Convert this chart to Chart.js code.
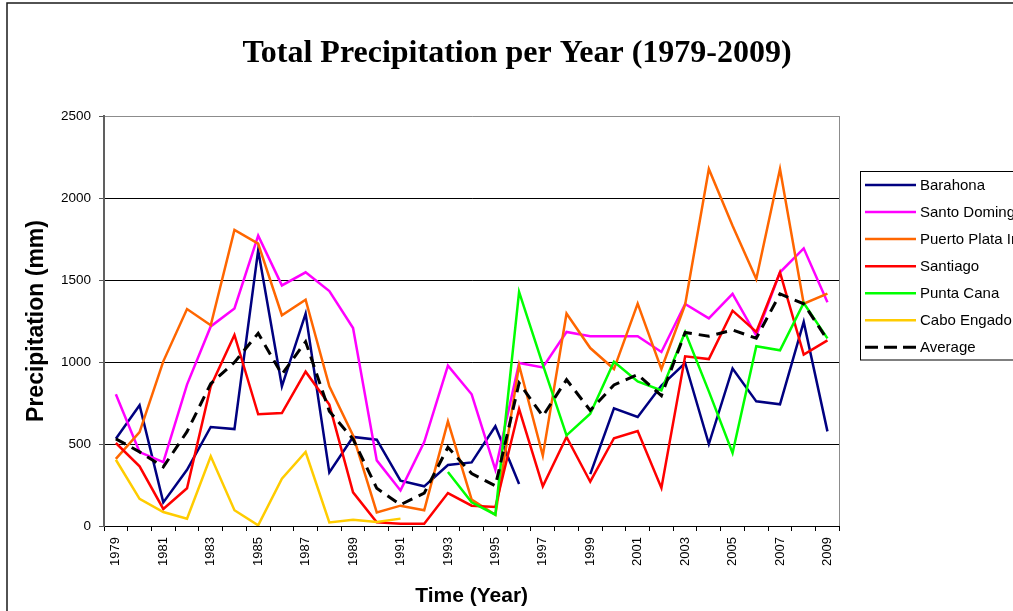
<!DOCTYPE html>
<html>
<head>
<meta charset="utf-8">
<script src="https://cdn.jsdelivr.net/npm/chart.js@4.4.1/dist/chart.umd.min.js"></script>
<style>
  html, body { margin: 0; padding: 0; overflow: hidden; background: #fff; width: 1013px; height: 611px; }
  #wrap { width: 1034px; height: 611px; }
</style>
</head>
<body>
<div id="wrap"><canvas id="c" width="1034" height="611"></canvas></div>
<script>
// Annual totals (mm), 1979-2009; null = no record for that year
const years = ['1979','1980','1981','1982','1983','1984','1985','1986','1987','1988','1989','1990','1991','1992','1993','1994','1995','1996','1997','1998','1999','2000','2001','2002','2003','2004','2005','2006','2007','2008','2009'];

const barahona     = [532, 736, 144, 343, 604, 591, 1681, 852, 1295, 327, 543, 526, 276, 242, 372, 388, 608, 256, null, null, 316, 717, 665, 856, 994, 500, 961, 760, 742, 1244, 577];
const santoDomingo = [803, 451, 390, 862, 1217, 1327, 1770, 1467, 1547, 1433, 1207, 400, 217, 512, 978, 803, 343, 994, 967, 1183, 1157, 1157, 1157, 1061, 1354, 1266, 1415, 1161, 1547, 1693, 1364];
const puertoPlata  = [409, 573, 1004, 1323, 1224, 1805, 1722, 1285, 1380, 852, 552, 83, 124, 96, 638, 161, 69, 980, 429, 1295, 1085, 957, 1356, 957, 1350, 2177, 1831, 1506, 2177, 1356, 1417];
const santiago     = [506, 364, 104, 230, 852, 1165, 681, 689, 941, 740, 205, 22, 14, 14, 201, 124, 116, 713, 242, 543, 270, 535, 579, 232, 1035, 1018, 1313, 1183, 1547, 1045, 1132];
const puntaCana    = [null, null, null, null, null, null, null, null, null, null, null, null, null, null, 329, 144, 69, 1427, 984, 553, 685, 1002, 882, 827, 1183, 821, 445, 1096, 1071, 1360, 1144];
const caboEngado   = [404, 165, 85, 45, 425, 96, 4, 289, 451, 22, 38, 24, 45, null, null, null, null, null, null, null, null, null, null, null, null, null, null, null, null, null, null];
const average      = [531, 452, 360, 575, 868, 998, 1175, 925, 1124, 700, 530, 230, 130, 200, 480, 320, 245, 872, 670, 892, 705, 860, 923, 795, 1180, 1157, 1195, 1145, 1415, 1355, 1135];

const seriesNames = ['Barahona', 'Santo Domingo', 'Puerto Plata Intl', 'Santiago', 'Punta Cana', 'Cabo Engado', 'Average'];
const seriesColors = ['#000080', '#ff00ff', '#ff6600', '#ff0000', '#00ff00', '#ffcc00', '#000000'];
const seriesValues = [barahona, santoDomingo, puertoPlata, santiago, puntaCana, caboEngado, average];

const chartTitle = 'Total Precipitation per Year (1979-2009)';

const datasets = seriesValues.map((vals, i) => ({
  label: seriesNames[i],
  data: vals,
  borderColor: seriesColors[i],
  backgroundColor: seriesColors[i],
  borderWidth: i === 6 ? 3 : 2.5,
  borderDash: i === 6 ? [11, 7] : undefined,
  pointRadius: 0,
  tension: 0,
  spanGaps: false,
  fill: false,
  order: 6 - i
}));

// outer chart frame, heading and plot-area right edge
const frame = {
  id: 'frame',
  beforeDraw(chart) {
    const c = chart.ctx;
    c.save();
    c.fillStyle = '#fff';
    c.fillRect(0, 0, chart.width, chart.height);
    c.strokeStyle = '#1a1a1a';
    c.lineWidth = 1.5;
    c.strokeRect(7, 3, 2000, 2000);
    c.fillStyle = '#000';
    c.font = "bold 32px 'Liberation Serif', 'Times New Roman', serif";
    c.textAlign = 'center';
    c.textBaseline = 'middle';
    c.fillText(chartTitle, 517, 54);
    c.restore();
  },
  beforeDatasetsDraw(chart) {
    const a = chart.chartArea, c = chart.ctx;
    c.save();
    c.strokeStyle = '#8c8c8c';
    c.lineWidth = 1;
    c.beginPath();
    c.moveTo(Math.round(a.right) + 0.5, a.top);
    c.lineTo(Math.round(a.right) + 0.5, a.bottom);
    c.stroke();
    c.restore();
  }
};

// boxed legend on the right
const legendBox = {
  id: 'legendBox',
  afterDraw(chart) {
    const c = chart.ctx;
    c.save();
    c.strokeStyle = '#000';
    c.lineWidth = 1;
    c.strokeRect(860.5, 171.5, 400, 188.5);
    chart.data.datasets.forEach((ds, i) => {
      const y = 185 + i * 27.05;
      c.beginPath();
      c.setLineDash(ds.borderDash ? [13, 6] : []);
      c.strokeStyle = ds.borderColor;
      c.lineWidth = ds.borderDash ? 3 : 2.5;
      c.moveTo(865, y);
      c.lineTo(916, y);
      c.stroke();
      c.setLineDash([]);
      c.fillStyle = '#000';
      c.font = "15px 'Liberation Sans', Arial, sans-serif";
      c.textBaseline = 'middle';
      c.textAlign = 'left';
      c.fillText(ds.label, 920, y + 1);
    });
    c.restore();
  }
};

Chart.defaults.font.family = "'Liberation Sans', Arial, sans-serif";
Chart.defaults.color = '#000';

new Chart(document.getElementById('c'), {
  type: 'line',
  data: { labels: years, datasets: datasets },
  options: {
    responsive: false,
    animation: false,
    devicePixelRatio: 1,
    layout: { padding: { left: 0, right: 194.7, top: 116, bottom: 0 } },
    plugins: {
      legend: { display: false },
      tooltip: { enabled: false },
      title: { display: false }
    },
    scales: {
      x: {
        offset: true,
        grid: { offset: true, drawOnChartArea: false, tickLength: 5, tickColor: '#000' },
        border: { color: '#000', width: 1 },
        ticks: {
          autoSkip: false, minRotation: 90, maxRotation: 90, padding: 6,
          font: { size: 13 }, color: '#000',
          callback: (v, i) => (i % 2 === 0 ? years[i] : '')
        },
        title: { display: true, text: 'Time (Year)', color: '#000', font: { size: 21, weight: 'bold' }, padding: { top: 0, bottom: 2.4 } },
        afterFit: s => { s.height = 85; }
      },
      y: {
        min: 0, max: 2500,
        ticks: { stepSize: 500, padding: 8, font: { size: 13.5 }, color: '#000', callback: v => String(v) },
        grid: {
          color: c => (c.tick && c.tick.value === 2500 ? '#8c8c8c' : '#000'),
          tickLength: 5, tickColor: '#555'
        },
        border: { color: '#606060', width: 2 },
        title: { display: true, text: 'Precipitation (mm)', color: '#000', font: { size: 23, weight: 'bold' }, padding: { top: 23, bottom: 0 } },
        afterFit: s => { s.width = 104; }
      }
    }
  },
  plugins: [frame, legendBox]
});
</script>
</body>
</html>
